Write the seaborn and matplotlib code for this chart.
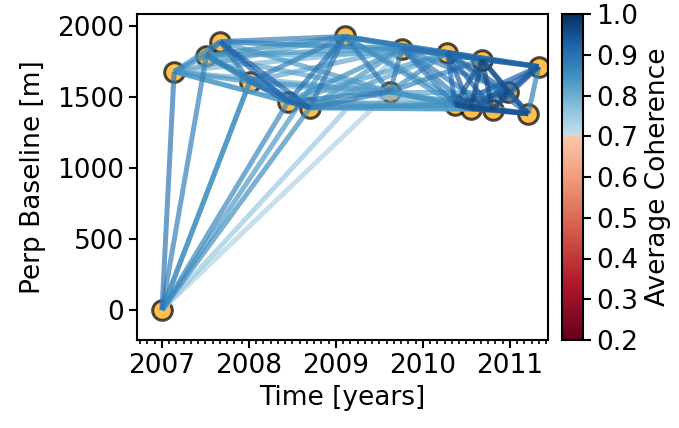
import matplotlib
matplotlib.use("Agg")
import numpy as np
import pandas as pd
import seaborn as sns
import matplotlib.pyplot as plt
from matplotlib.colors import ListedColormap, Normalize
from matplotlib.ticker import MultipleLocator, FormatStrFormatter
from matplotlib.cm import ScalarMappable

# acquisition dates (decimal years) and perpendicular baselines (m)
dec_years = [2007.00, 2007.14, 2007.51, 2007.67, 2008.01, 2008.45, 2008.70,
             2009.10, 2009.62, 2009.76, 2010.28, 2010.37, 2010.55, 2010.68,
             2010.80, 2010.98, 2011.21, 2011.33]
bperp = [0, 1676, 1789, 1887, 1606, 1465, 1422, 1923, 1535, 1838, 1810,
         1444, 1415, 1760, 1408, 1535, 1380, 1711]

# interferogram pairs (reference idx, secondary idx) and average coherence
pair_ref = [0, 0, 0, 0, 0, 0, 0, 0, 0,
            1, 1, 1, 1, 1, 1, 1, 1,
            2, 2, 2, 2, 2, 2, 2, 2,
            3, 3, 3, 3, 3, 3, 3,
            4, 4, 4, 4, 4, 4,
            5, 5, 5, 5, 5, 5, 5,
            6, 6, 6, 6, 6, 6, 6,
            7, 7, 7, 7, 7, 7, 7,
            8, 8, 8, 8, 8, 8, 8, 8,
            9, 9, 9, 9, 9, 9, 9,
            10, 10, 10, 10, 10, 10, 10,
            11, 11, 11, 11, 11, 11,
            12, 12, 12, 12, 12,
            13, 13, 13, 13,
            14, 14, 14,
            15, 15,
            16]
pair_sec = [1, 2, 4, 4, 5, 6, 7, 8, 9,
            2, 3, 4, 5, 6, 7, 8, 9,
            3, 4, 5, 6, 7, 8, 9, 10,
            4, 5, 6, 7, 8, 9, 10,
            5, 6, 7, 8, 9, 11,
            6, 7, 8, 9, 10, 11, 12,
            7, 8, 9, 10, 11, 12, 14,
            8, 9, 10, 11, 13, 17, 12,
            9, 10, 11, 12, 14, 15, 13, 16,
            10, 11, 12, 13, 14, 15, 17,
            11, 12, 13, 14, 15, 16, 17,
            12, 13, 14, 15, 16, 17,
            13, 14, 15, 16, 17,
            14, 15, 16, 17,
            15, 16, 17,
            16, 17,
            17]
pair_coh = [0.89, 0.87, 0.85, 0.83, 0.86, 0.85, 0.83, 0.73, 0.75,
            0.86, 0.85, 0.84, 0.83, 0.82, 0.81, 0.79, 0.78,
            0.89, 0.87, 0.86, 0.87, 0.85, 0.81, 0.83, 0.80,
            0.88, 0.92, 0.91, 0.87, 0.83, 0.85, 0.81,
            0.89, 0.88, 0.87, 0.83, 0.81, 0.79,
            0.93, 0.90, 0.87, 0.85, 0.82, 0.83, 0.81,
            0.89, 0.88, 0.83, 0.81, 0.85, 0.83, 0.80,
            0.88, 0.78, 0.87, 0.85, 0.88, 0.87, 0.83,
            0.88, 0.85, 0.83, 0.84, 0.83, 0.81, 0.86, 0.82,
            0.90, 0.88, 0.87, 0.89, 0.87, 0.86, 0.88,
            0.92, 0.93, 0.92, 0.92, 0.91, 0.90, 0.91,
            0.95, 0.94, 0.95, 0.94, 0.93, 0.92,
            0.96, 0.95, 0.94, 0.93, 0.92,
            0.96, 0.95, 0.94, 0.93,
            0.96, 0.95, 0.94,
            0.94, 0.93,
            0.87]

cb_ticks = [0.2, 0.3, 0.4, 0.5, 0.6, 0.7, 0.8, 0.9, 1.0]
x_ticks = [2007, 2008, 2009, 2010, 2011]

# ---- colormap: RdBu with the pale middle removed, split at 0.7 ----
rdbu = plt.get_cmap("RdBu")
low = rdbu(np.linspace(0.0, 0.36, 160))
high = rdbu(np.linspace(0.62, 1.0, 96))
cmap = ListedColormap(np.vstack([low, high]))
norm = Normalize(vmin=0.2, vmax=1.0)

sns.set_theme(style="ticks")
plt.rcParams["font.family"] = ["DejaVu Sans"]
plt.rcParams["text.color"] = "black"
plt.rcParams["axes.labelcolor"] = "black"
plt.rcParams["xtick.color"] = "black"
plt.rcParams["ytick.color"] = "black"
FS = 19

nodes = pd.DataFrame({"t": dec_years, "bperp": bperp})
rows = []
for k, (i, j, c) in enumerate(zip(pair_ref, pair_sec, pair_coh)):
    rows.append({"edge": k, "t": dec_years[i], "bperp": bperp[i], "coh": c})
    rows.append({"edge": k, "t": dec_years[j], "bperp": bperp[j], "coh": c})
edges = pd.DataFrame(rows)

fig = plt.figure(figsize=(6.79, 4.28), dpi=100)
ax = fig.add_axes([137 / 679, (428 - 340) / 428, (548 - 137) / 679, (340 - 14) / 428])
cax = fig.add_axes([562 / 679, (428 - 340) / 428, (583 - 562) / 679, (340 - 14) / 428])

sns.scatterplot(data=nodes, x="t", y="bperp", ax=ax, s=200, color="orange",
                edgecolor="black", linewidth=2.2, alpha=0.7, zorder=1, legend=False)
sns.lineplot(data=edges, x="t", y="bperp", hue="coh", units="edge", estimator=None,
             sort=False, palette=cmap, hue_norm=norm, linewidth=3.6, alpha=0.7,
             legend=False, ax=ax, zorder=2)
for ln in ax.get_lines():
    ln.set_solid_capstyle("butt")

ax.set_xlim(2006.713, 2011.437)
ax.set_ylim(-211, 2081)
ax.set_xticks(x_ticks)
ax.xaxis.set_major_formatter(FormatStrFormatter("%d"))
ax.xaxis.set_minor_locator(MultipleLocator(1 / 12))
ax.set_yticks([0, 500, 1000, 1500, 2000])
ax.set_xlabel("Time [years]", fontsize=FS, color="black")
ax.set_ylabel("Perp Baseline [m]", fontsize=FS, color="black", labelpad=8)
ax.tick_params(axis="both", which="major", labelsize=FS, length=6, width=1.5,
               colors="black")
ax.tick_params(axis="x", which="minor", length=3, width=1.2, colors="black")
for sp in ax.spines.values():
    sp.set_linewidth(1.5)
    sp.set_color("black")

sm = ScalarMappable(norm=norm, cmap=cmap)
cb = fig.colorbar(sm, cax=cax)
cb.set_ticks(cb_ticks)
cb.ax.yaxis.set_major_formatter(FormatStrFormatter("%.1f"))
cb.ax.tick_params(labelsize=FS, length=6, width=1.5, colors="black")
cb.set_label("Average Coherence", fontsize=FS, color="black", labelpad=5)
cb.outline.set_linewidth(1.5)
cb.outline.set_edgecolor("black")

fig.savefig("out.png", dpi=100)
